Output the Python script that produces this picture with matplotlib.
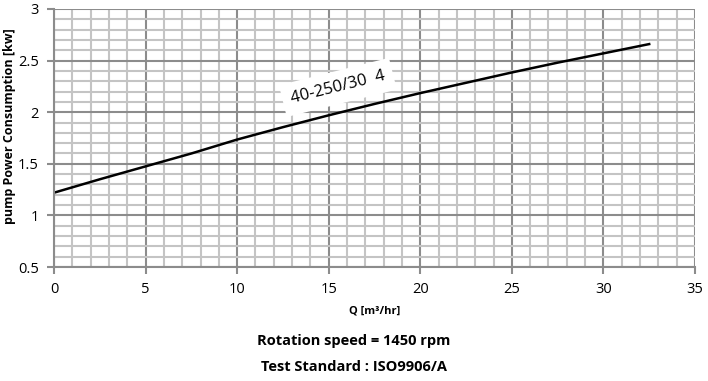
import matplotlib
matplotlib.use("Agg")
import matplotlib.pyplot as plt
from matplotlib.ticker import MultipleLocator

# Pump curve
flow = [0, 2.5, 5, 7.5, 10, 12.5, 15, 17.5, 20, 22.5, 25, 27.5, 30, 32.5]
power = [1.22, 1.35, 1.475, 1.60, 1.735, 1.855, 1.97, 2.08, 2.185, 2.285, 2.385, 2.48, 2.57, 2.66]
curve_label = "40-250/30  4"

plt.rcParams['font.family'] = ['Open Sans', 'DejaVu Sans']

fig = plt.figure(figsize=(7.08, 3.81), dpi=100)
ax = fig.add_axes([0.0763, 0.2992, 0.9053, 0.6772])

ax.set_xlim(0, 35)
ax.set_ylim(0.5, 3)
ax.xaxis.set_major_locator(MultipleLocator(5))
ax.xaxis.set_minor_locator(MultipleLocator(1))
ax.yaxis.set_major_locator(MultipleLocator(0.5))
ax.yaxis.set_minor_locator(MultipleLocator(0.1))

ax.grid(which='minor', color='#c4c4c4', linewidth=1.5)
ax.grid(which='major', color='#8c8c8c', linewidth=1.5)
ax.set_axisbelow(True)

for side in ['top', 'right']:
    ax.spines[side].set_visible(False)
for side in ['left', 'bottom']:
    ax.spines[side].set_color('#8c8c8c')
    ax.spines[side].set_linewidth(1.5)

ax.tick_params(which='major', direction='out', length=5, width=1.5, color='#8c8c8c',
               labelsize=10.5, pad=6)
ax.tick_params(which='minor', length=0)
ax.set_xticklabels([f"{int(v)}" for v in ax.get_xticks()])
ax.set_yticklabels([f"{v:g}" for v in ax.get_yticks()])

ax.plot(flow, power, color='black', linewidth=1.8)

ax.text(15.5, 2.24, curve_label, rotation=14, ha='center', va='center', fontsize=12,
        bbox=dict(facecolor='white', edgecolor='none', pad=6))

ax.set_xlabel("Q [m³/hr]", fontsize=8, fontweight='bold', labelpad=6)
fig.text(0.014, 0.668, "pump Power Consumption [kw]", rotation=90, ha='center', va='center',
         fontsize=9, fontweight='bold')

fig.text(0.5, 0.106, "Rotation speed = 1450 rpm", ha='center', va='center',
         fontsize=10.5, fontweight='bold')
fig.text(0.5, 0.038, "Test Standard : ISO9906/A", ha='center', va='center',
         fontsize=10.5, fontweight='bold')

fig.savefig("out.png", dpi=100)
